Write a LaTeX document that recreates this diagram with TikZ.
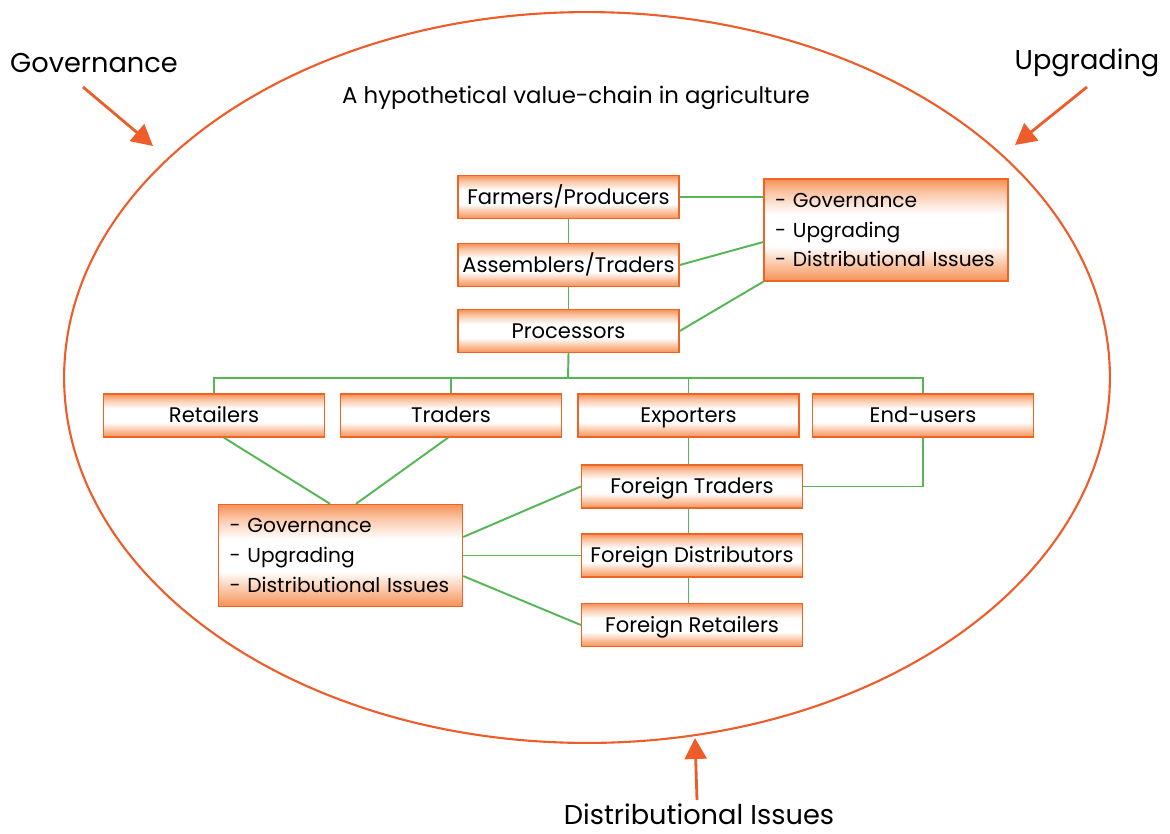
\documentclass[tikz,border=0pt]{standalone}
\usepackage{fontspec}
\setmainfont{Poppins}
\usetikzlibrary{calc,arrows.meta}

\definecolor{boxline}{RGB}{240,100,35}
\definecolor{boxdeep}{RGB}{246,146,86}
\definecolor{linkgreen}{RGB}{84,182,84}
\definecolor{ringred}{RGB}{238,92,42}
\pgfdeclareverticalshading{boxfill}{100bp}{color(0bp)=(boxdeep); color(25bp)=(boxdeep); color(32bp)=(boxdeep!60); color(42bp)=(white); color(58bp)=(white); color(68bp)=(boxdeep!50); color(75bp)=(boxdeep); color(100bp)=(boxdeep)}

\tikzset{
  orangebox/.style={draw=boxline,line width=0.8pt,shading=boxfill,inner sep=0pt},
  chainbox/.style={orangebox,minimum width=4.42cm,minimum height=0.86cm,text height=1.05em,text depth=0.2em,font=\fontsize{12}{14}\selectfont},
  issuebox/.style={orangebox,align=left,text width=4.44cm,inner xsep=0.22cm,minimum height=2.04cm,font=\fontsize{11.5}{17}\selectfont},
  link/.style={draw=linkgreen,line width=1.1pt},
  pointer/.style={draw=ringred,line width=1.6pt,-{Triangle[length=0.42cm,width=0.44cm]}},
  biglabel/.style={inner sep=1pt,font=\fontsize{15.5}{18}\selectfont}
}

\begin{document}
\begin{tikzpicture}[x=0.02cm,y=-0.02cm]
  \useasboundingbox (0,0) rectangle (1170,833);
  \draw[ringred,line width=1.2pt] (587,377.5) ellipse (10.46cm and 7.31cm);
  \node[font=\fontsize{13}{15}\selectfont] (title) at (576,98) {A hypothetical value-chain in agriculture};

  % outer labels
  \node[biglabel] (govlbl) at (94,63) {Governance};
  \node[biglabel] (uplbl) at (1087,63) {Upgrading};
  \node[biglabel] (dislbl) at (699,814) {Distributional Issues};
  \coordinate (govtail) at (83,87);
  \coordinate (govtip) at (153,146);
  \coordinate (uptail) at (1087,87);
  \coordinate (uptip) at (1015,145);
  \coordinate (distail) at (697,800);
  \coordinate (distip) at (695,738);
  \draw[pointer] (govtail) -- (govtip);
  \draw[pointer] (uptail) -- (uptip);
  \draw[pointer] (distail) -- (distip);

  % domestic chain
  \node[chainbox] (farm) at (568.5,197) {Farmers/Producers};
  \node[chainbox] (asm) at (568.5,265) {Assemblers/Traders};
  \node[chainbox] (proc) at (568.5,331) {Processors};
  \node[issuebox] (iss1) at (886,230) {- Governance\\- Upgrading\\- Distributional Issues};

  \node[chainbox] (ret) at (214,415.5) {Retailers};
  \node[chainbox] (trd) at (451,415.5) {Traders};
  \node[chainbox] (exp) at (688.5,415.5) {Exporters};
  \node[chainbox] (endu) at (923,415.5) {End-users};

  % foreign side
  \node[chainbox] (ftrd) at (692,486.5) {Foreign Traders};
  \node[chainbox] (fdist) at (692,555.5) {Foreign Distributors};
  \node[chainbox] (fret) at (692,625) {Foreign Retailers};
  \node[issuebox] (iss2) at (340.5,555.5) {- Governance\\- Upgrading\\- Distributional Issues};

  \draw[link] (farm) -- (asm);
  \draw[link] (asm) -- (proc);
  \draw[link] (farm.east) -- (farm.east -| iss1.west);
  \draw[link] (asm.east) -- (iss1.west |- 0,242);
  \draw[link] (proc.east) -- (iss1.south west);

  \coordinate (bus) at (568,378);
  \draw[link] (proc.south) -- (bus);
  \draw[link] (ret.north) |- (bus) -| (endu.north);
  \draw[link] (trd.north) -- (trd.north |- bus);
  \draw[link] (exp.north) -- (exp.north |- bus);

  \draw[link] (ret.south -| 224,0) -- (iss2.north -| 330,0);
  \draw[link] (trd.south -| 448,0) -- (iss2.north -| 356,0);
  \draw[link] (exp.south) -- (exp.south |- ftrd.north);
  \draw[link] (endu.south) |- (ftrd.east);
  \draw[link] (ftrd.south -| exp.south) -- (fdist.north -| exp.south);
  \draw[link] (fdist.south -| exp.south) -- (fret.north -| exp.south);

  \draw[link] (ftrd.west) -- (iss2.east |- 0,537);
  \draw[link] (fdist.west) -- (iss2.east |- fdist.west);
  \draw[link] (fret.west) -- (iss2.east |- 0,576);
\end{tikzpicture}
\end{document}
